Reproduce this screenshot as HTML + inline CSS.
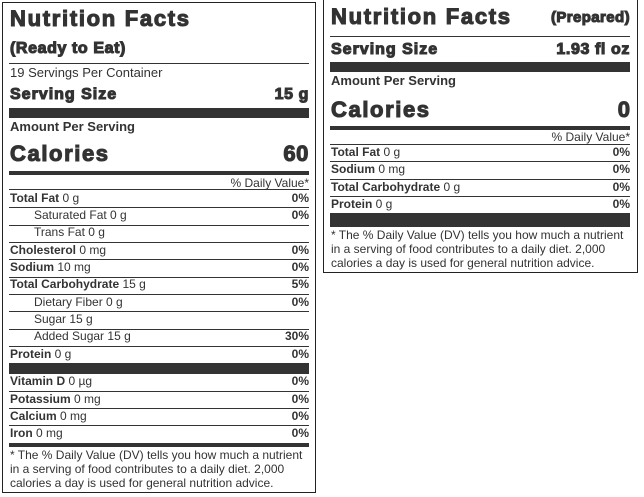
<!DOCTYPE html>
<html><head><meta charset="utf-8"><style>
body{margin:0;width:644px;height:497px;background:#fff;position:relative;overflow:hidden;font-family:"Liberation Sans",Arial,sans-serif;color:#333}
.box{position:absolute;border:1px solid #222;box-sizing:border-box}
.t{position:absolute;white-space:nowrap;line-height:1}
.r{text-align:right}
.hv{font-weight:bold;-webkit-text-stroke:1.1px #333}
.b{font-weight:bold}
.hl{position:absolute;background:#333;height:1px}
.bar{position:absolute;background:#333}
.n{font-size:12px}
</style></head><body>
<div class="box" style="left:2px;top:2px;width:314px;height:491px"></div>
<div class="box" style="left:323px;top:-1px;width:315px;height:274px"></div>

<!-- LEFT -->
<div class="t hv" style="left:10px;top:8px;font-size:22px;letter-spacing:1.7px">Nutrition Facts</div>
<div class="t hv" style="left:10px;top:41px;font-size:16px;letter-spacing:0.6px">(Ready to Eat)</div>
<div class="hl" style="left:9px;width:300px;top:63px"></div>
<div class="t" style="left:10px;top:66px;font-size:13px">19 Servings Per Container</div>
<div class="t hv" style="left:10px;top:87px;font-size:16px;letter-spacing:1px">Serving Size</div>
<div class="t hv r" style="right:335px;top:87px;font-size:16px;letter-spacing:0.6px">15 g</div>
<div class="bar" style="left:9px;width:300px;top:108px;height:10px"></div>
<div class="t b" style="left:10px;top:120px;font-size:13px">Amount Per Serving</div>
<div class="t hv" style="left:10px;top:143px;font-size:22px;letter-spacing:1.6px">Calories</div>
<div class="t hv r" style="right:335px;top:143px;font-size:22px;letter-spacing:0.6px">60</div>
<div class="bar" style="left:9px;width:300px;top:171px;height:4px"></div>
<div class="t r" style="right:335px;top:177px;font-size:12px">% Daily Value*</div>
<div class="hl" style="left:9px;width:300px;top:189px"></div>

<div class="t n" style="left:10px;top:192px"><b>Total Fat</b> 0 g</div><div class="t n b r" style="right:335px;top:192px">0%</div>
<div class="hl" style="left:9px;width:300px;top:207px"></div>
<div class="t n" style="left:34px;top:209px">Saturated Fat 0 g</div><div class="t n b r" style="right:335px;top:209px">0%</div>
<div class="hl" style="left:9px;width:300px;top:225px"></div>
<div class="t n" style="left:34px;top:226px">Trans Fat 0 g</div>
<div class="hl" style="left:9px;width:300px;top:242px"></div>
<div class="t n" style="left:10px;top:244px"><b>Cholesterol</b> 0 mg</div><div class="t n b r" style="right:335px;top:244px">0%</div>
<div class="hl" style="left:9px;width:300px;top:259px"></div>
<div class="t n" style="left:10px;top:261px"><b>Sodium</b> 10 mg</div><div class="t n b r" style="right:335px;top:261px">0%</div>
<div class="hl" style="left:9px;width:300px;top:277px"></div>
<div class="t n" style="left:10px;top:278px"><b>Total Carbohydrate</b> 15 g</div><div class="t n b r" style="right:335px;top:278px">5%</div>
<div class="hl" style="left:9px;width:300px;top:294px"></div>
<div class="t n" style="left:34px;top:296px">Dietary Fiber 0 g</div><div class="t n b r" style="right:335px;top:296px">0%</div>
<div class="hl" style="left:9px;width:300px;top:311px"></div>
<div class="t n" style="left:34px;top:313px">Sugar 15 g</div>
<div class="hl" style="left:9px;width:300px;top:329px"></div>
<div class="t n" style="left:34px;top:330px">Added Sugar 15 g</div><div class="t n b r" style="right:335px;top:330px">30%</div>
<div class="hl" style="left:9px;width:300px;top:346px"></div>
<div class="t n" style="left:10px;top:348px"><b>Protein</b> 0 g</div><div class="t n b r" style="right:335px;top:348px">0%</div>
<div class="bar" style="left:9px;width:300px;top:363px;height:11px"></div>
<div class="t n" style="left:10px;top:375px"><b>Vitamin D</b> 0 µg</div><div class="t n b r" style="right:335px;top:375px">0%</div>
<div class="hl" style="left:9px;width:300px;top:391px"></div>
<div class="t n" style="left:10px;top:393px"><b>Potassium</b> 0 mg</div><div class="t n b r" style="right:335px;top:393px">0%</div>
<div class="hl" style="left:9px;width:300px;top:408px"></div>
<div class="t n" style="left:10px;top:410px"><b>Calcium</b> 0 mg</div><div class="t n b r" style="right:335px;top:410px">0%</div>
<div class="hl" style="left:9px;width:300px;top:425px"></div>
<div class="t n" style="left:10px;top:427px"><b>Iron</b> 0 mg</div><div class="t n b r" style="right:335px;top:427px">0%</div>
<div class="bar" style="left:9px;width:300px;top:443px;height:4px"></div>
<div class="t n" style="left:10px;top:448px;line-height:14px;white-space:normal;width:300px">* The % Daily Value (DV) tells you how much a nutrient in a serving of food contributes to a daily diet. 2,000 calories a day is used for general nutrition advice.</div>

<!-- RIGHT -->
<div class="t hv" style="left:331px;top:6px;font-size:22px;letter-spacing:1.7px">Nutrition Facts</div>
<div class="t hv r" style="right:14px;top:10px;font-size:15px;letter-spacing:0.4px">(Prepared)</div>
<div class="hl" style="left:330px;width:300px;top:36px"></div>
<div class="t hv" style="left:331px;top:42px;font-size:16px;letter-spacing:1px">Serving Size</div>
<div class="t hv r" style="right:14px;top:42px;font-size:16px;letter-spacing:0.6px">1.93 fl oz</div>
<div class="bar" style="left:330px;width:300px;top:62px;height:10px"></div>
<div class="t b" style="left:331px;top:74px;font-size:13px">Amount Per Serving</div>
<div class="t hv" style="left:331px;top:99px;font-size:22px;letter-spacing:1.6px">Calories</div>
<div class="t hv r" style="right:14px;top:99px;font-size:22px">0</div>
<div class="bar" style="left:330px;width:300px;top:126px;height:4px"></div>
<div class="t r" style="right:14px;top:131px;font-size:12px">% Daily Value*</div>
<div class="hl" style="left:330px;width:300px;top:144px"></div>
<div class="t n" style="left:331px;top:146px"><b>Total Fat</b> 0 g</div><div class="t n b r" style="right:14px;top:146px">0%</div>
<div class="hl" style="left:330px;width:300px;top:161px"></div>
<div class="t n" style="left:331px;top:163px"><b>Sodium</b> 0 mg</div><div class="t n b r" style="right:14px;top:163px">0%</div>
<div class="hl" style="left:330px;width:300px;top:179px"></div>
<div class="t n" style="left:331px;top:181px"><b>Total Carbohydrate</b> 0 g</div><div class="t n b r" style="right:14px;top:181px">0%</div>
<div class="hl" style="left:330px;width:300px;top:196px"></div>
<div class="t n" style="left:331px;top:198px"><b>Protein</b> 0 g</div><div class="t n b r" style="right:14px;top:198px">0%</div>
<div class="bar" style="left:330px;width:300px;top:213px;height:14px"></div>
<div class="t n" style="left:331px;top:228px;line-height:14px;white-space:normal;width:300px">* The % Daily Value (DV) tells you how much a nutrient in a serving of food contributes to a daily diet. 2,000 calories a day is used for general nutrition advice.</div>
</body></html>
